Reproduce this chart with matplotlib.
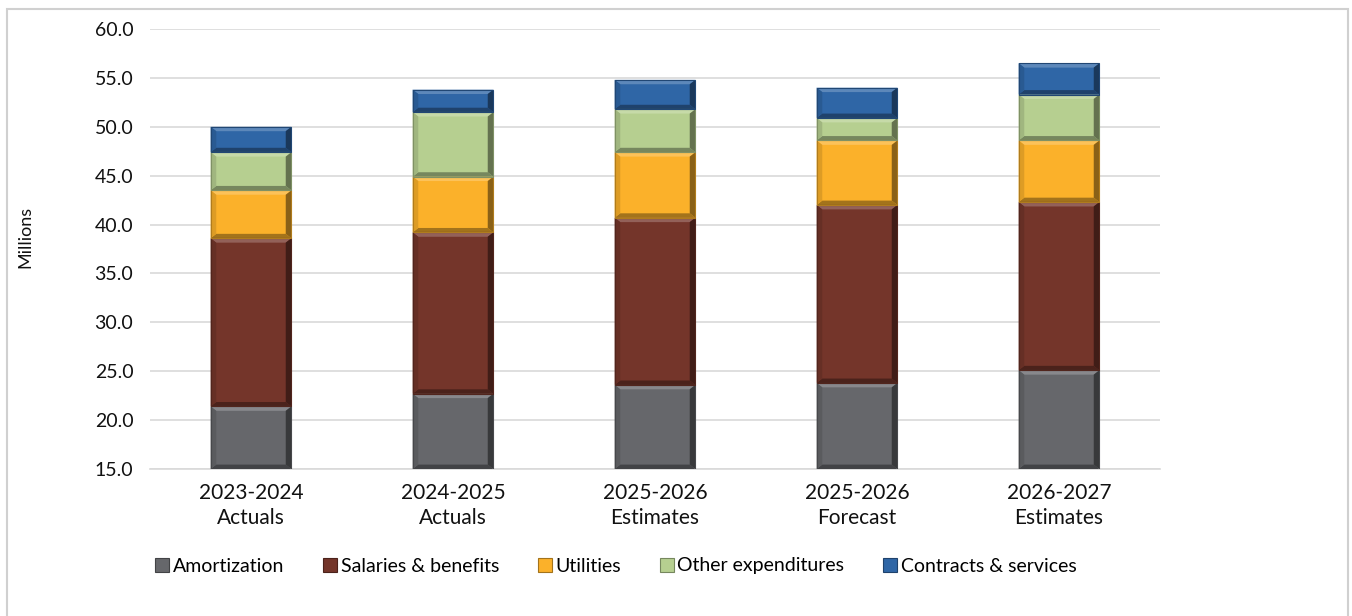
import matplotlib.pyplot as plt
from matplotlib.patches import Polygon, Rectangle, Patch
import matplotlib.colors as mcolors
import numpy as np

# spending by category, in millions
periods = ["2023-2024\nActuals", "2024-2025\nActuals", "2025-2026\nEstimates",
           "2025-2026\nForecast", "2026-2027\nEstimates"]
amortization = [21.4, 22.7, 23.6, 23.8, 25.1]
salaries = [17.2, 16.5, 17.1, 18.2, 17.2]
utilities = [4.9, 5.7, 6.7, 6.6, 6.3]
other_exp = [3.9, 6.6, 4.4, 2.3, 4.7]
contracts = [2.6, 2.3, 3.0, 3.1, 3.2]

series_names = ["Amortization", "Salaries & benefits", "Utilities",
                "Other expenditures", "Contracts & services"]
colors = ["#66676b", "#74352a", "#fbb12a", "#b6cf90", "#2f66a6"]

plt.rcParams['font.family'] = ['Lato', 'DejaVu Sans']

fig = plt.figure(figsize=(13.52, 6.16), dpi=100)
ax = fig.add_axes([150 / 1352, 1 - 469 / 616, 1010 / 1352, 440 / 616])

# light frame around the whole chart
fig.patches.append(Rectangle((7 / 1352, -0.01), 1341 / 1352, 1 - 9 / 616 + 0.01,
                             transform=fig.transFigure, fill=False,
                             edgecolor="#d0d0d0", linewidth=1.5))


def shade(c, f):
    r, g, b = mcolors.to_rgb(c)
    if f > 0:
        return (r + (1 - r) * f, g + (1 - g) * f, b + (1 - b) * f)
    return (r * (1 + f), g * (1 + f), b * (1 + f))


def bevel(ax, rect, color, dx=0.028, dy=0.45):
    # trapezoid edges that give each segment a raised look
    x0, y0 = rect.get_x(), rect.get_y()
    w, h = rect.get_width(), rect.get_height()
    x1, y1 = x0 + w, y0 + h
    ylo = max(y0, 15.0)
    dyy = min(dy, (y1 - ylo) / 3)
    faces = [
        ([(x0, y1), (x1, y1), (x1 - dx, y1 - dyy), (x0 + dx, y1 - dyy)], shade(color, 0.22)),
        ([(x0, ylo), (x1, ylo), (x1 - dx, ylo + dyy), (x0 + dx, ylo + dyy)], shade(color, -0.35)),
        ([(x0, ylo), (x0 + dx, ylo + dyy), (x0 + dx, y1 - dyy), (x0, y1)], shade(color, -0.12)),
        ([(x1, ylo), (x1 - dx, ylo + dyy), (x1 - dx, y1 - dyy), (x1, y1)], shade(color, -0.45)),
    ]
    for pts, fc in faces:
        ax.add_patch(Polygon(pts, closed=True, facecolor=fc, edgecolor="none", zorder=3))
    ax.add_patch(Rectangle((x0, ylo), w, y1 - ylo, fill=False,
                           edgecolor=shade(color, -0.3), linewidth=0.8, zorder=4))


x = np.arange(len(periods))
bottom = np.zeros(len(periods))
for vals, name, c in zip([amortization, salaries, utilities, other_exp, contracts],
                         series_names, colors):
    bars = ax.bar(x, vals, width=0.4, bottom=bottom, color=c, label=name, zorder=2)
    for r in bars:
        bevel(ax, r, c)
    bottom += np.array(vals)

ax.set_ylim(15, 60)
ax.set_xlim(-0.5, 4.5)
ax.set_yticks(np.arange(15, 61, 5))
ax.set_yticklabels([f"{v:.1f}" for v in np.arange(15, 61, 5)])
ax.set_xticks(x)
ax.set_xticklabels(periods, linespacing=1.35)
ax.tick_params(axis='both', length=0, colors="#111111")
ax.tick_params(axis='y', pad=12, labelsize=14)
ax.tick_params(axis='x', pad=10, labelsize=15)
ax.grid(axis='y', color="#d9d9d9", linewidth=1.2, zorder=0)
ax.set_axisbelow(True)
for s in ["top", "right", "left"]:
    ax.spines[s].set_visible(False)
ax.spines["bottom"].set_color("#d9d9d9")
ax.spines["bottom"].set_linewidth(1.2)

fig.text(25 / 1352, 1 - 237 / 616, "Millions", rotation=90, ha="center",
         va="center", fontsize=13, color="#111111")

handles = [Patch(facecolor=c, edgecolor=shade(c, -0.35), linewidth=0.8) for c in colors]
fig.legend(handles, series_names, loc="center", bbox_to_anchor=(616 / 1352, 1 - 566 / 616),
           ncol=5, frameon=False, fontsize=14, handlelength=0.7, handleheight=0.7,
           handletextpad=0.2, columnspacing=2.0)

fig.savefig("out.png", dpi=100)
